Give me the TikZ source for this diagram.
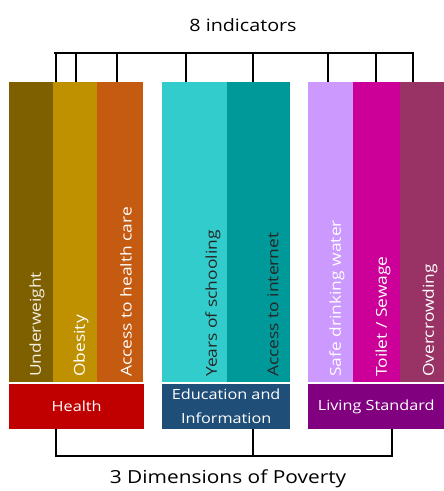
\documentclass[tikz,border=0pt]{standalone}
\usepackage{fontspec}
\setmainfont[FakeStretch=1.16]{Open Sans}
\begin{document}
\begin{tikzpicture}[x=1pt,y=-1pt,
  bar/.style={draw=none,inner sep=0pt,anchor=north west},
  dim/.style={draw=none,inner sep=0pt,anchor=north west,text=white,align=center,font=\fontsize{14}{24}\selectfont},
  vlab/.style={anchor=south,inner sep=0pt,font=\fontsize{15}{17}\selectfont},
  conn/.style={line width=1.6pt,black}]
\useasboundingbox (0,0) rectangle (444,491);
\definecolor{cUnder}{HTML}{7F6000}
\definecolor{cObes}{HTML}{BF9000}
\definecolor{cAcc}{HTML}{C55A11}
\definecolor{cYears}{HTML}{33CCCC}
\definecolor{cNet}{HTML}{009999}
\definecolor{cSafe}{HTML}{CC99FF}
\definecolor{cToil}{HTML}{CC0099}
\definecolor{cOver}{HTML}{993366}
\definecolor{cHealth}{HTML}{C00000}
\definecolor{cEdu}{HTML}{1F4E79}
\definecolor{cLiv}{HTML}{800080}
% bars
\node[bar,fill=cUnder,minimum width=44pt,minimum height=300pt] (b1) at (9,82) {};
\node[bar,fill=cObes,minimum width=44pt,minimum height=300pt] (b2) at (53,82) {};
\node[bar,fill=cAcc,minimum width=46pt,minimum height=300pt] (b3) at (97,82) {};
\node[bar,fill=cYears,minimum width=65pt,minimum height=300pt] (b4) at (162,82) {};
\node[bar,fill=cNet,minimum width=63pt,minimum height=300pt] (b5) at (227,82) {};
\node[bar,fill=cSafe,minimum width=45pt,minimum height=300pt] (b6) at (308,82) {};
\node[bar,fill=cToil,minimum width=47pt,minimum height=300pt] (b7) at (353,82) {};
\node[bar,fill=cOver,minimum width=44pt,minimum height=300pt] (b8) at (400,82) {};
% bar labels
\node[vlab,text=white!90!cUnder] (l1) at (37,377) {\rotatebox{90}{Underweight}};
\node[vlab,text=white] (l2) at (81,377) {\rotatebox{90}{Obesity}};
\node[vlab,text=white] (l3) at (126,377) {\rotatebox{90}{Access to health care}};
\node[vlab,text=black!85] (l4) at (213,377) {\rotatebox{90}{Years of schooling}};
\node[vlab,text=black!85] (l5) at (273,377) {\rotatebox{90}{Access to internet}};
\node[vlab,text=white] (l6) at (337,377) {\rotatebox{90}{Safe drinking water}};
\node[vlab,text=white] (l7) at (383,377) {\rotatebox{90}{Toilet / Sewage}};
\node[vlab,text=white] (l8) at (430,377) {\rotatebox{90}{Overcrowding}};
% dimension boxes
\node[dim,fill=cHealth,minimum width=135pt,minimum height=45pt] (d1) at (9,384) {Health};
\node[dim,fill=cEdu,minimum width=128pt,minimum height=45pt] (d2) at (162,384) {Education and\\Information};
\node[dim,fill=cLiv,minimum width=136pt,minimum height=45pt] (d3) at (308,384) {Living Standard};
% titles
\node[font=\fontsize{17}{20}\selectfont] (top) at (243,25) {8 indicators};
\node[font=\fontsize{18}{21}\selectfont] (bot) at (228,479) {3 Dimensions of Poverty};
% top bracket
\coordinate (tL) at (54,53);
\coordinate (tR) at (414,53);
\draw[conn] (tL) -- (tR);
\foreach \xx/\b in {56/b2,76/b2,117/b3,186/b4,253/b5,328/b6,376/b7,413/b8}{
  \coordinate (tc) at (\xx,53);
  \draw[line width=1.3pt] (tc) -- (tc |- \b.north);
}
% bottom bracket
\coordinate (bL) at (56,456);
\coordinate (bM) at (253,456);
\coordinate (bR) at (392,456);
\draw[conn] (bL |- d1.south) -- (bL) -- (bR) -- (bR |- d3.south);
\draw[conn] (bM |- d2.south) -- (bM);
\end{tikzpicture}
\end{document}
